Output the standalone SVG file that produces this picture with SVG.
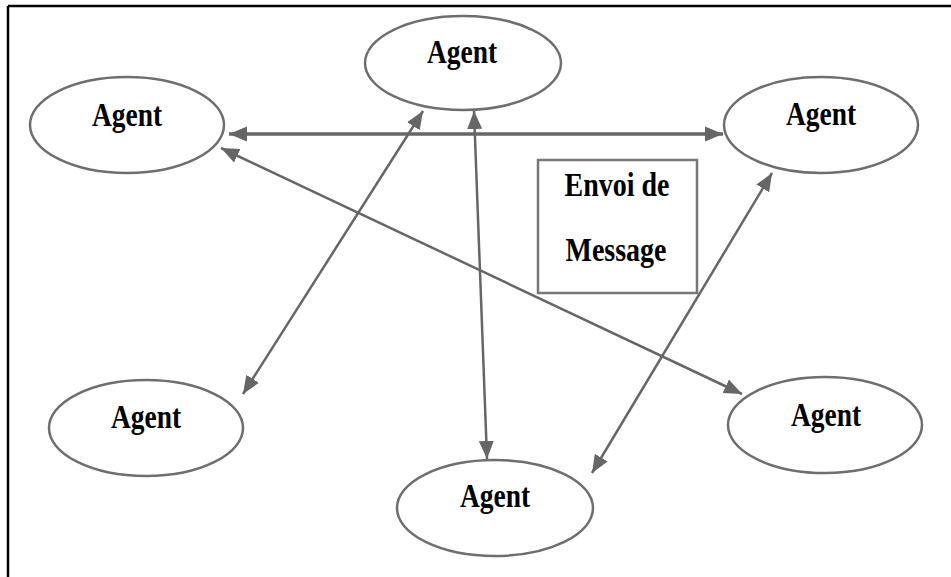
<svg xmlns="http://www.w3.org/2000/svg" width="951" height="577" viewBox="0 0 951 577">
<style>
.node ellipse{fill:#fff;stroke:#6e6e6e;stroke-width:2.5}
.box{fill:#fff;stroke:#777;stroke-width:2.5}
.lbl{font-family:"Liberation Serif","Times New Roman",serif;font-weight:bold;font-size:28px;fill:#000;text-anchor:middle}
.conn line{stroke:#666;stroke-width:2.5;marker-start:url(#ah);marker-end:url(#ah)}
</style>
<defs>
<marker id="ah" markerUnits="userSpaceOnUse" markerWidth="19" markerHeight="17" viewBox="0 0 19 17" refX="18" refY="8.5" orient="auto-start-reverse">
<path d="M0,1 L18,8.5 L0,16 Z" fill="#666"/>
</marker>
</defs>
<rect width="951" height="577" fill="#fff"/>
<g id="frame" stroke="#000" stroke-width="2.5" fill="none">
<line x1="8" y1="6" x2="951" y2="6"/>
<line x1="8" y1="6" x2="8" y2="577"/>
</g>
<g id="connectors" class="conn">
<line x1="229" y1="134" x2="723" y2="134" style="stroke-width:3.5"/>
<line x1="423" y1="111" x2="243" y2="394"/>
<line x1="474" y1="111" x2="487" y2="459"/>
<line x1="221" y1="148" x2="742" y2="394"/>
<line x1="772" y1="173" x2="592" y2="473"/>
</g>
<g id="agent-top" class="node">
<ellipse cx="463" cy="63" rx="98" ry="47"/>
<text class="lbl" transform="translate(462,63) scale(0.98,1.2)">Agent</text>
</g>
<g id="agent-left" class="node">
<ellipse cx="127" cy="125" rx="97" ry="48"/>
<text class="lbl" transform="translate(127,126) scale(0.98,1.2)">Agent</text>
</g>
<g id="agent-right" class="node">
<ellipse cx="821" cy="125" rx="97" ry="48"/>
<text class="lbl" transform="translate(821,125) scale(0.98,1.2)">Agent</text>
</g>
<g id="agent-bottom-left" class="node">
<ellipse cx="146" cy="428" rx="97" ry="48"/>
<text class="lbl" transform="translate(146,428) scale(0.98,1.2)">Agent</text>
</g>
<g id="agent-bottom-right" class="node">
<ellipse cx="825" cy="425" rx="97" ry="48"/>
<text class="lbl" transform="translate(826,426) scale(0.98,1.2)">Agent</text>
</g>
<g id="agent-bottom" class="node">
<ellipse cx="495" cy="508" rx="98" ry="48"/>
<text class="lbl" transform="translate(495,507) scale(0.98,1.2)">Agent</text>
</g>
<g id="envoi-message">
<rect class="box" x="538" y="160" width="159" height="133"/>
<text class="lbl" transform="translate(617,196) scale(1,1.2)">Envoi de</text>
<text class="lbl" transform="translate(616,261) scale(1,1.2)">Message</text>
</g>
</svg>
